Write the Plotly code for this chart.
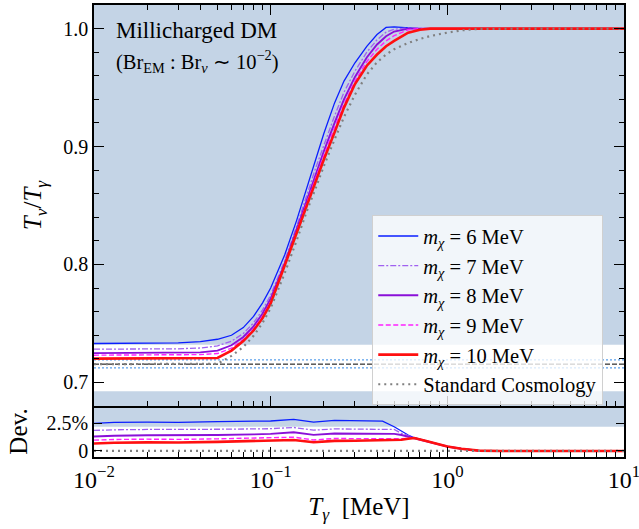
import plotly.graph_objects as go

# ---------------- data ----------------
T_top = [0.01, 0.02, 0.03, 0.04, 0.05, 0.06, 0.07, 0.08, 0.09, 0.10, 0.12, 0.14, 0.16, 0.18,
         0.20, 0.23, 0.26, 0.30, 0.35, 0.40, 0.45, 0.50, 0.60, 0.70, 0.80, 1.0, 1.2, 1.5,
         2.0, 3.0, 5.0, 10.0]

ratio_6MeV = [0.7330, 0.7332, 0.7336, 0.7346, 0.7366, 0.7400, 0.7465, 0.7560, 0.7675, 0.7800,
              0.8080, 0.8370, 0.8650, 0.8900, 0.9110, 0.9370, 0.9555, 0.9710, 0.9850, 0.9950,
              1.0010, 1.0015, 1.0005, 1.0, 1.0, 1.0, 1.0, 1.0, 1.0, 1.0, 1.0, 1.0]
ratio_7MeV = [0.7282, 0.7283, 0.7285, 0.7292, 0.7310, 0.7350, 0.7415, 0.7505, 0.7615, 0.7740,
              0.8030, 0.8320, 0.8590, 0.8820, 0.9010, 0.9260, 0.9460, 0.9640, 0.9800, 0.9905,
              0.9970, 0.9995, 1.0005, 1.0, 1.0, 1.0, 1.0, 1.0, 1.0, 1.0, 1.0, 1.0]
ratio_8MeV = [0.7248, 0.7249, 0.7251, 0.7255, 0.7270, 0.7315, 0.7385, 0.7475, 0.7585, 0.7710,
              0.8005, 0.8295, 0.8555, 0.8775, 0.8960, 0.9200, 0.9400, 0.9590, 0.9755, 0.9865,
              0.9935, 0.9975, 1.0000, 1.0, 1.0, 1.0, 1.0, 1.0, 1.0, 1.0, 1.0, 1.0]
ratio_9MeV = [0.7231, 0.7232, 0.7233, 0.7236, 0.7245, 0.7290, 0.7365, 0.7455, 0.7560, 0.7685,
              0.7995, 0.8280, 0.8530, 0.8740, 0.8925, 0.9160, 0.9360, 0.9555, 0.9720, 0.9825,
              0.9895, 0.9940, 0.9990, 1.0, 1.0, 1.0, 1.0, 1.0, 1.0, 1.0, 1.0, 1.0]
ratio_10MeV = [0.7202, 0.7203, 0.7204, 0.7205, 0.7207, 0.7270, 0.7350, 0.7440, 0.7545, 0.7670,
               0.7990, 0.8270, 0.8510, 0.8710, 0.8890, 0.9120, 0.9330, 0.9530, 0.9685, 0.9780,
               0.9850, 0.9895, 0.9965, 0.9990, 1.0, 1.0, 1.0, 1.0, 1.0, 1.0, 1.0, 1.0]
ratio_std = [0.7155, 0.7155, 0.7155, 0.7155, 0.7158, 0.7225, 0.7300, 0.7395, 0.7505, 0.7630,
             0.7925, 0.8200, 0.8450, 0.8650, 0.8835, 0.9060, 0.9250, 0.9440, 0.9610, 0.9715,
             0.9780, 0.9825, 0.9878, 0.9912, 0.9937, 0.9966, 0.9985, 0.9997, 1.0, 1.0, 1.0, 1.0]

T_dev = [0.01, 0.013, 0.02, 0.03, 0.05, 0.08, 0.10, 0.135, 0.175, 0.23, 0.30, 0.43, 0.50,
         0.55, 0.60, 0.65, 0.75, 0.90, 1.0, 1.2, 1.5, 2.0, 5.0, 10.0]
dev_6MeV = [2.50, 2.60, 2.62, 2.60, 2.66, 2.70, 2.72, 2.87, 2.62, 2.77, 2.72, 2.71, 2.20,
            1.80, 1.45, 1.20, 0.92, 0.55, 0.40, 0.20, 0.03, 0.0, 0.0, 0.0]
dev_7MeV = [1.86, 1.92, 1.95, 1.93, 1.97, 2.00, 2.02, 2.13, 1.89, 2.00, 2.00, 2.00, 1.95,
            1.60, 1.35, 1.18, 0.92, 0.55, 0.40, 0.20, 0.03, 0.0, 0.0, 0.0]
dev_8MeV = [1.31, 1.38, 1.42, 1.41, 1.45, 1.50, 1.55, 1.70, 1.46, 1.58, 1.58, 1.58, 1.55,
            1.45, 1.30, 1.18, 0.92, 0.55, 0.40, 0.20, 0.03, 0.0, 0.0, 0.0]
dev_9MeV = [0.98, 1.04, 1.07, 1.05, 1.10, 1.15, 1.18, 1.25, 1.00, 1.13, 1.12, 1.10, 1.10,
            1.12, 1.15, 1.17, 0.92, 0.55, 0.40, 0.20, 0.03, 0.0, 0.0, 0.0]
dev_10MeV = [0.67, 0.75, 0.78, 0.76, 0.82, 0.88, 0.92, 1.00, 0.79, 0.91, 0.92, 0.97, 0.98,
             1.02, 1.10, 1.17, 0.92, 0.55, 0.40, 0.20, 0.03, 0.0, 0.0, 0.0]
dev_std = [0.0] * len(T_dev)

labels = ["6", "7", "8", "9", "10"]

# reference lines / bands
allowed_band_top = (0.6925, 0.732)
allowed_band_dev = (-0.55, 2.2)
std_asymptote = 0.7155
band_lines = [0.7123, 0.7191]

x_tickvals = [0.01, 0.1, 1, 10]
x_ticktext = ["10<sup>−2</sup>", "10<sup>−1</sup>", "10<sup>0</sup>", "10<sup>1</sup>"]
x_minor = [m * 10 ** e for e in (-2, -1, 0) for m in range(2, 10)]
y_tickvals = [0.7, 0.8, 0.9, 1.0]
y_ticktext = ["0.7", "0.8", "0.9", "1.0"]
y_minor = [0.68, 0.72, 0.74, 0.76, 0.78, 0.82, 0.84, 0.86, 0.88, 0.92, 0.94, 0.96, 0.98, 1.02]
dev_tickvals = [0, 2.5]
dev_ticktext = ["0", "2.5%"]

# ---------------- styling ----------------
FONT = "Liberation Serif"
BG = "#c4d4e6"
styles = [
    dict(color="#0a1eff", width=1.3, dash="solid"),
    dict(color="#a061f0", width=1.3, dash="6px,2px,2px,2px"),
    dict(color="#8a10d8", width=1.9, dash="solid"),
    dict(color="#ff22ff", width=1.4, dash="5px,2.5px"),
    dict(color="#ff1010", width=2.6, dash="solid"),
]
std_style = dict(color="#808080", width=2.2, dash="2px,4px")

fig = go.Figure()

top_series = [ratio_6MeV, ratio_7MeV, ratio_8MeV, ratio_9MeV, ratio_10MeV]
dev_series = [dev_6MeV, dev_7MeV, dev_8MeV, dev_9MeV, dev_10MeV]

for lab, ys, st in zip(labels, top_series, styles):
    fig.add_trace(go.Scatter(x=T_top, y=ys, mode="lines", line=st,
                             name=f"<i>m</i><sub><i>χ</i></sub> = {lab} MeV",
                             xaxis="x", yaxis="y"))
fig.add_trace(go.Scatter(x=T_top, y=ratio_std, mode="lines", line=std_style,
                         name="Standard Cosmology", xaxis="x", yaxis="y"))

for lab, ys, st in zip(labels, dev_series, styles):
    fig.add_trace(go.Scatter(x=T_dev, y=ys, mode="lines", line=st, showlegend=False,
                             xaxis="x2", yaxis="y2"))
fig.add_trace(go.Scatter(x=T_dev, y=dev_std, mode="lines", line=std_style,
                         showlegend=False, xaxis="x2", yaxis="y2"))

shapes = [
    dict(type="rect", xref="x domain", yref="y", x0=0, x1=1,
         y0=allowed_band_top[0], y1=allowed_band_top[1],
         fillcolor="white", line=dict(width=0), layer="below"),
    dict(type="rect", xref="x2 domain", yref="y2", x0=0, x1=1,
         y0=allowed_band_dev[0], y1=allowed_band_dev[1],
         fillcolor="white", line=dict(width=0), layer="below"),
    dict(type="line", xref="x domain", yref="y", x0=0, x1=1,
         y0=std_asymptote, y1=std_asymptote,
         line=dict(color="black", width=1, dash="5px,2px"), layer="below"),
]
for v in band_lines:
    shapes.append(dict(type="line", xref="x domain", yref="y", x0=0, x1=1, y0=v, y1=v,
                       line=dict(color="#5aa0ec", width=1.2, dash="2px,2px"), layer="below"))

split = 0.1128
axis_common = dict(showline=True, linecolor="black", linewidth=1.5, ticks="inside",
                   tickcolor="black", showgrid=False, zeroline=False, automargin=False)

fig.update_layout(
    width=639, height=529,
    margin=dict(l=94, r=15, t=5, b=72, autoexpand=False),
    paper_bgcolor="white", plot_bgcolor=BG,
    font=dict(family=FONT, color="black", size=20),
    shapes=shapes,
    xaxis=dict(type="log", range=[-2, 1], domain=[0, 1], anchor="y",
               tickvals=x_tickvals, showticklabels=False, ticklen=10, tickwidth=1.2,
               mirror="ticks",
               minor=dict(tickmode="array", tickvals=x_minor, ticks="inside", ticklen=5,
                          tickcolor="black", tickwidth=1, showgrid=False),
               **axis_common),
    yaxis=dict(range=[0.68, 1.02], domain=[split, 1], anchor="x",
               tickvals=y_tickvals, ticktext=y_ticktext, ticklen=10, tickwidth=1.2,
               mirror="ticks", tickfont=dict(size=20),
               minor=dict(tickmode="array", tickvals=y_minor, ticks="inside", ticklen=5,
                          tickcolor="black", tickwidth=1, showgrid=False),
               title=dict(text="<i>T</i><sub><i>ν</i></sub>/<i>T</i><sub><i>γ</i></sub>",
                          font=dict(size=25), standoff=14),
               **axis_common),
    xaxis2=dict(type="log", range=[-2, 1], domain=[0, 1], anchor="y2",
                tickvals=x_tickvals, ticktext=x_ticktext, ticklen=10, tickwidth=1.2,
                mirror=False, tickfont=dict(size=24), ticklabeloverflow="allow",
                minor=dict(tickmode="array", tickvals=x_minor, ticks="inside", ticklen=5,
                           tickcolor="black", tickwidth=1, showgrid=False),
                title=dict(text="<i>T</i><sub><i>γ</i></sub>  [MeV]", font=dict(size=25),
                           standoff=6),
                **axis_common),
    yaxis2=dict(range=[-0.55, 4.08], domain=[0, split], anchor="x2",
                tickvals=dev_tickvals, ticktext=dev_ticktext, ticklen=8, tickwidth=1.2,
                mirror="ticks", tickfont=dict(size=20),
                title=dict(text="Dev.", font=dict(size=25), standoff=12),
                **axis_common),
    legend=dict(x=0.525, y=0.535, xanchor="left", yanchor="top",
                bgcolor="rgba(255,255,255,0.78)", bordercolor="#d0d0d0", borderwidth=1,
                font=dict(family=FONT, size=20.5), itemwidth=40,
                tracegroupgap=0),
    annotations=[
        dict(text="Millicharged DM", xref="paper", yref="paper", x=0.037, y=0.944,
             xanchor="left", yanchor="middle", showarrow=False,
             font=dict(family=FONT, size=23)),
        dict(text="(Br<sub>EM</sub> : Br<sub><i>ν</i></sub> ∼ 10<sup>−2</sup>)",
             xref="paper", yref="paper", x=0.037, y=0.874,
             xanchor="left", yanchor="middle", showarrow=False,
             font=dict(family=FONT, size=20.5)),
    ],
)

fig.write_html("out.html",
               config={"displayModeBar": False},
               post_script="document.body.style.margin='0';document.body.style.overflow='hidden';")
